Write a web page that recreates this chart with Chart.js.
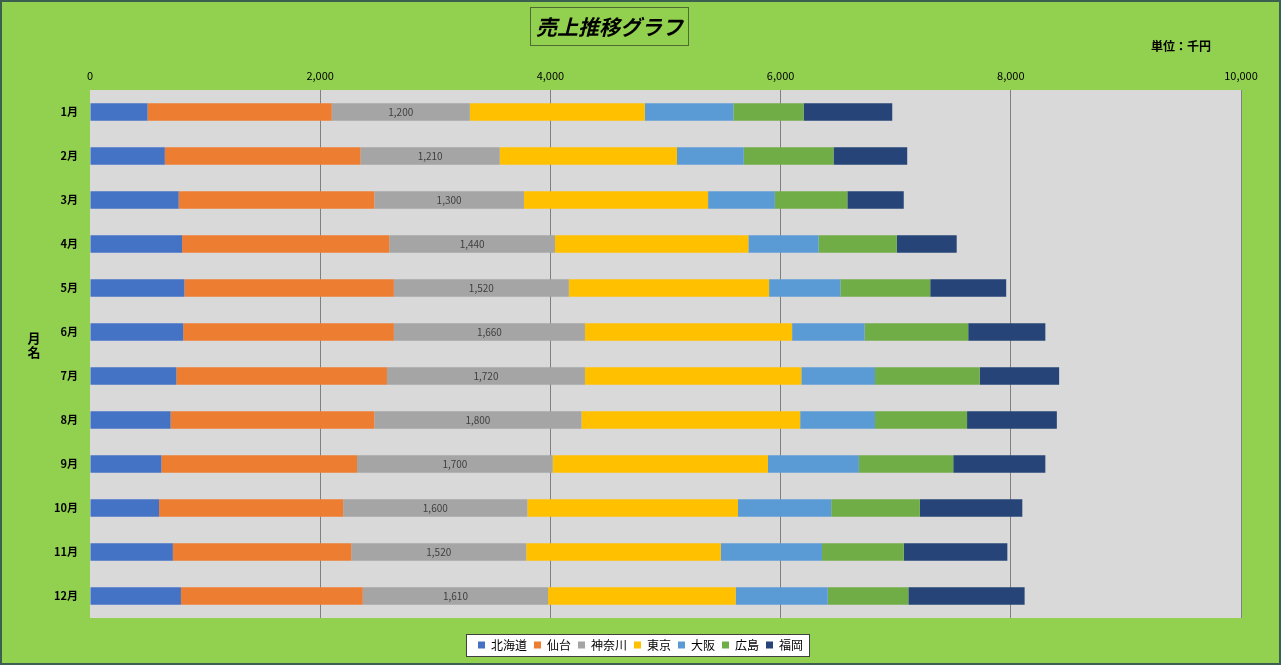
<!DOCTYPE html>
<html>
<head>
<meta charset="utf-8">
<script src="https://cdn.jsdelivr.net/npm/chart.js@4.4.1/dist/chart.umd.min.js"></script>
<style>
  html, body { margin: 0; padding: 0; background: #92D050; }
  #wrap { position: relative; width: 1281px; height: 665px; overflow: hidden; }
  #title {
    position: absolute; left: 530px; top: 7px; width: 157px; height: 37px;
    border: 1px solid #4E6B35; box-sizing: content-box;
    font: italic bold 21px "Noto Sans CJK JP", sans-serif; color: #000;
    line-height: 37px; text-align: center;
  }
  #unit {
    position: absolute; left: 1151px; top: 37px;
    font: bold 12px "Noto Sans CJK JP", sans-serif; color: #000;
  }
</style>
</head>
<body>
<div id="wrap">
  <canvas id="chart" width="1281" height="665"></canvas>
  <div id="title">売上推移グラフ</div>
  <div id="unit">単位：千円</div>
</div>
<script>
const months = ["1月", "2月", "3月", "4月", "5月", "6月", "7月", "8月", "9月", "10月", "11月", "12月"];
const xTicks = [0, 2000, 4000, 6000, 8000, 10000];

const hokkaido = [500, 650, 770, 800, 820, 810, 750, 700, 620, 600, 720, 790];
const sendai = [1600, 1700, 1700, 1800, 1820, 1830, 1830, 1770, 1700, 1600, 1550, 1580];
const kanagawa = [1200, 1210, 1300, 1440, 1520, 1660, 1720, 1800, 1700, 1600, 1520, 1610];
const tokyo = [1520, 1540, 1600, 1680, 1740, 1800, 1880, 1900, 1870, 1830, 1690, 1630];
const osaka = [770, 580, 580, 610, 620, 630, 640, 650, 790, 810, 880, 800];
const hiroshima = [610, 780, 630, 680, 780, 900, 910, 800, 820, 770, 710, 700];
const fukuoka = [770, 640, 490, 520, 660, 670, 690, 780, 800, 890, 900, 1010];

const font = '"Noto Sans CJK JP", sans-serif';

// plot background, legend box and outer frame
const decor = {
  id: "decor",
  beforeDraw(chart) {
    const { ctx, chartArea: a } = chart;
    ctx.save();
    ctx.fillStyle = "#D9D9D9";
    ctx.fillRect(a.left, a.top, a.right - a.left, a.bottom - a.top);
    const boxes = chart.legend.legendHitBoxes;
    if (boxes && boxes.length) {
      const l = Math.min(...boxes.map(b => b.left)) - 12;
      const r = Math.max(...boxes.map(b => b.left + b.width)) + 6;
      const t = boxes[0].top - 5;
      const h = boxes[0].height + 10;
      ctx.fillStyle = "#fff";
      ctx.fillRect(l, t, r - l, h);
      ctx.strokeStyle = "#404040";
      ctx.lineWidth = 1;
      ctx.strokeRect(l + 0.5, t + 0.5, r - l, h);
    }
    ctx.restore();
  },
  afterDraw(chart) {
    const { ctx } = chart;
    ctx.save();
    // y axis title, stacked
    ctx.fillStyle = "#000";
    ctx.font = "bold 13px " + font;
    ctx.textAlign = "center";
    ctx.textBaseline = "middle";
    ctx.fillText("月", 34, 338);
    ctx.fillText("名", 34, 352);
    ctx.strokeStyle = "#3B6050";
    ctx.lineWidth = 2;
    ctx.strokeRect(1, 1, chart.width - 2, chart.height - 2);
    ctx.restore();
  }
};

// value labels on the 神奈川 series
const grayLabels = {
  id: "grayLabels",
  afterDatasetsDraw(chart) {
    const { ctx } = chart;
    const meta = chart.getDatasetMeta(2);
    ctx.save();
    ctx.fillStyle = "#404040";
    ctx.font = "10px " + font;
    ctx.textAlign = "center";
    ctx.textBaseline = "middle";
    meta.data.forEach((el, i) => {
      ctx.fillText(kanagawa[i].toLocaleString("en-US"), (el.x + el.base) / 2, el.y);
    });
    ctx.restore();
  }
};

// empty spacer axes so the legend stays centred on the page
const spacer = (pos, size) => ({
  type: "linear",
  position: pos,
  display: true,
  ticks: { display: false },
  grid: { display: false },
  border: { display: false },
  afterFit(scale) {
    if (pos === "right") scale.width = size; else scale.height = size;
  },
});

new Chart(document.getElementById("chart"), {
  type: "bar",
  data: {
    labels: months,
    datasets: [
      { label: "北海道", data: hokkaido, backgroundColor: "#4472C4" },
      { label: "仙台", data: sendai, backgroundColor: "#ED7D31" },
      { label: "神奈川", data: kanagawa, backgroundColor: "#A5A5A5" },
      { label: "東京", data: tokyo, backgroundColor: "#FFC000" },
      { label: "大阪", data: osaka, backgroundColor: "#5B9BD5" },
      { label: "広島", data: hiroshima, backgroundColor: "#70AD47" },
      { label: "福岡", data: fukuoka, backgroundColor: "#264478" },
    ],
  },
  options: {
    indexAxis: "y",
    responsive: false,
    animation: false,
    barPercentage: 0.4,
    categoryPercentage: 1,
    layout: { padding: { left: 0, right: 0, top: 0, bottom: 4 } },
    scales: {
      x: {
        position: "top",
        stacked: true,
        min: 0,
        max: 10000,
        afterBuildTicks(scale) { scale.ticks = xTicks.map(v => ({ value: v })); },
        afterFit(scale) { scale.height = 90; },
        ticks: {
          padding: 8,
          color: "#000",
          font: { family: font, size: 11 },
          callback: v => v.toLocaleString("en-US"),
        },
        grid: {
          color: ctx => (ctx.tick && ctx.tick.value === 0 ? "rgba(0,0,0,0)" : "#808080"),
          drawTicks: false,
        },
        border: { display: false },
      },
      y: {
        stacked: true,
        afterFit(scale) { scale.width = 90; },
        ticks: {
          padding: 4,
          color: "#000",
          font: { family: font, size: 11, weight: "bold" },
        },
        grid: { display: false },
        border: { display: false },
      },
      yRight: spacer("right", 40),
      xBottom: spacer("bottom", 14),
    },
    plugins: {
      legend: {
        position: "bottom",
        labels: {
          boxWidth: 7,
          boxHeight: 7,
          padding: 7,
          color: "#000",
          font: { family: font, size: 12 },
        },
      },
      tooltip: { enabled: false },
    },
  },
  plugins: [decor, grayLabels],
});
</script>
</body>
</html>
